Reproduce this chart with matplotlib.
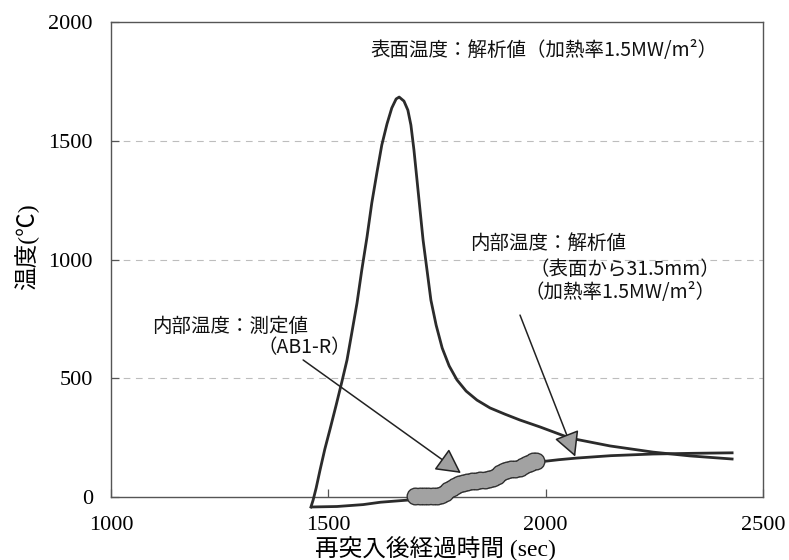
import matplotlib
matplotlib.use("Agg")
import matplotlib.pyplot as plt

# --- data -------------------------------------------------------------
# surface temperature, analysis (heating rate 1.5 MW/m2)
surf_t = [1460, 1465, 1472, 1481, 1492, 1504, 1518, 1531, 1543, 1554, 1566,
          1577, 1589, 1600, 1612, 1623, 1635, 1646, 1656, 1663, 1674, 1683,
          1690, 1697, 1704, 1711, 1718, 1727, 1736, 1748, 1762, 1778, 1796,
          1817, 1842, 1872, 1906, 1941, 1987, 2056, 2148, 2247, 2332, 2429]
surf_T = [-42, -13, 38, 114, 202, 286, 387, 484, 577, 691, 817,
          956, 1095, 1238, 1368, 1482, 1571, 1638, 1676, 1684, 1667, 1629,
          1566, 1461, 1335, 1208, 1082, 956, 829, 724, 627, 552, 493,
          446, 408, 375, 349, 324, 295, 248, 215, 189, 173, 160]

# internal temperature 31.5 mm below surface, analysis
inner_t = [1462, 1520, 1580, 1620, 1690, 1750, 1800, 1850, 1900, 1950,
           1982, 2030, 2072, 2150, 2247, 2340, 2429]
inner_T = [-42, -40, -32, -22, -12, 15, 45, 75, 102, 128,
           147, 157, 164, 174, 181, 184, 186]

# internal temperature, measured (AB1-R)
meas_t = [1700, 1710, 1720, 1730, 1740, 1750, 1760, 1768, 1776, 1784, 1792,
          1800, 1810, 1820, 1830, 1840, 1850, 1860, 1870, 1880, 1888, 1896,
          1904, 1912, 1920, 1930, 1940, 1948, 1956, 1964, 1972, 1978]
meas_T = [4, 3, 5, 4, 6, 5, 8, 18, 30, 40, 48,
          55, 60, 63, 66, 68, 70, 72, 74, 78, 88, 100,
          110, 114, 116, 118, 122, 130, 138, 144, 150, 153]

x_ticks = [1000, 1500, 2000, 2500]
y_ticks = [0, 500, 1000, 1500, 2000]

# --- figure -----------------------------------------------------------
cjk = "Noto Sans CJK JP"
serif_mix = ["Liberation Serif", cjk]

fig = plt.figure(figsize=(7.89, 5.6), dpi=100)
ax = fig.add_axes([0.1407, 0.1125, 0.8263, 0.8482])
ax.set_xlim(1000, 2500)
ax.set_ylim(0, 2000)

for s in ax.spines.values():
    s.set_color("#555555")
    s.set_linewidth(1.0)

# light dashed guides
for g in (500, 1000, 1500):
    ax.axhline(g, color="#bdbdbd", lw=0.8, ls=(0, (6, 5)), zorder=0)

ax.set_xticks(x_ticks)
ax.set_yticks(y_ticks)
ax.tick_params(direction="in", length=6, width=0.9, color="#555555")
ax.tick_params(axis="y", pad=13)
ax.tick_params(axis="x", pad=14)
for lab in ax.get_xticklabels() + ax.get_yticklabels():
    lab.set_fontfamily("Liberation Serif")
    lab.set_fontsize(16)

line_c = "#2b2b2b"
ax.plot(surf_t, surf_T, color=line_c, lw=2.0, clip_on=False, zorder=3,
        solid_joinstyle="round")
ax.plot(inner_t, inner_T, color=line_c, lw=2.0, clip_on=False, zorder=3,
        solid_joinstyle="round")

# measured points: dark outline under a grey fill
ax.plot(meas_t, meas_T, ls="none", marker="o", ms=13, mfc="#303030",
        mec="none", clip_on=False, zorder=4)
ax.plot(meas_t, meas_T, ls="none", marker="o", ms=11, mfc="#a2a2a2",
        mec="none", clip_on=False, zorder=5)

# labels
ax.set_xlabel("再突入後経過時間 (sec)", family=serif_mix, fontsize=17)
ax.xaxis.set_label_coords(0.498, -0.107)
ax.xaxis.label.set_va("center")
ax.set_ylabel("温度(℃)", family=serif_mix, fontsize=17)
ax.yaxis.set_label_coords(-0.129, 0.526)
ax.yaxis.label.set_va("center")

# annotations
txt = dict(family=cjk, fontsize=14, color="#111111", va="center", ha="left")
ax.text(1596, 1882, "表面温度：解析値（加熱率1.5MW/m²）", **txt)
ax.text(1825, 1066, "内部温度：解析値", **txt)
ax.text(1962, 960, "（表面から31.5mm）", **txt)
ax.text(1952, 863, "（加熱率1.5MW/m²）", **txt)
ax.text(1094, 720, "内部温度：測定値", **txt)
ax.text(1337, 628, "（AB1-R）", **txt)

arrow = dict(arrowstyle="-|>,head_length=0.85,head_width=0.45",
             fc="#a0a0a0", ec="#222222", lw=1.1, mutation_scale=18,
             shrinkA=0, shrinkB=0)
ax.annotate("", xy=(1805, 101), xytext=(1442, 577), arrowprops=arrow,
            zorder=6)
ax.annotate("", xy=(2068, 170), xytext=(1941, 766), arrowprops=arrow,
            zorder=6)

fig.savefig("out.png", dpi=100)
